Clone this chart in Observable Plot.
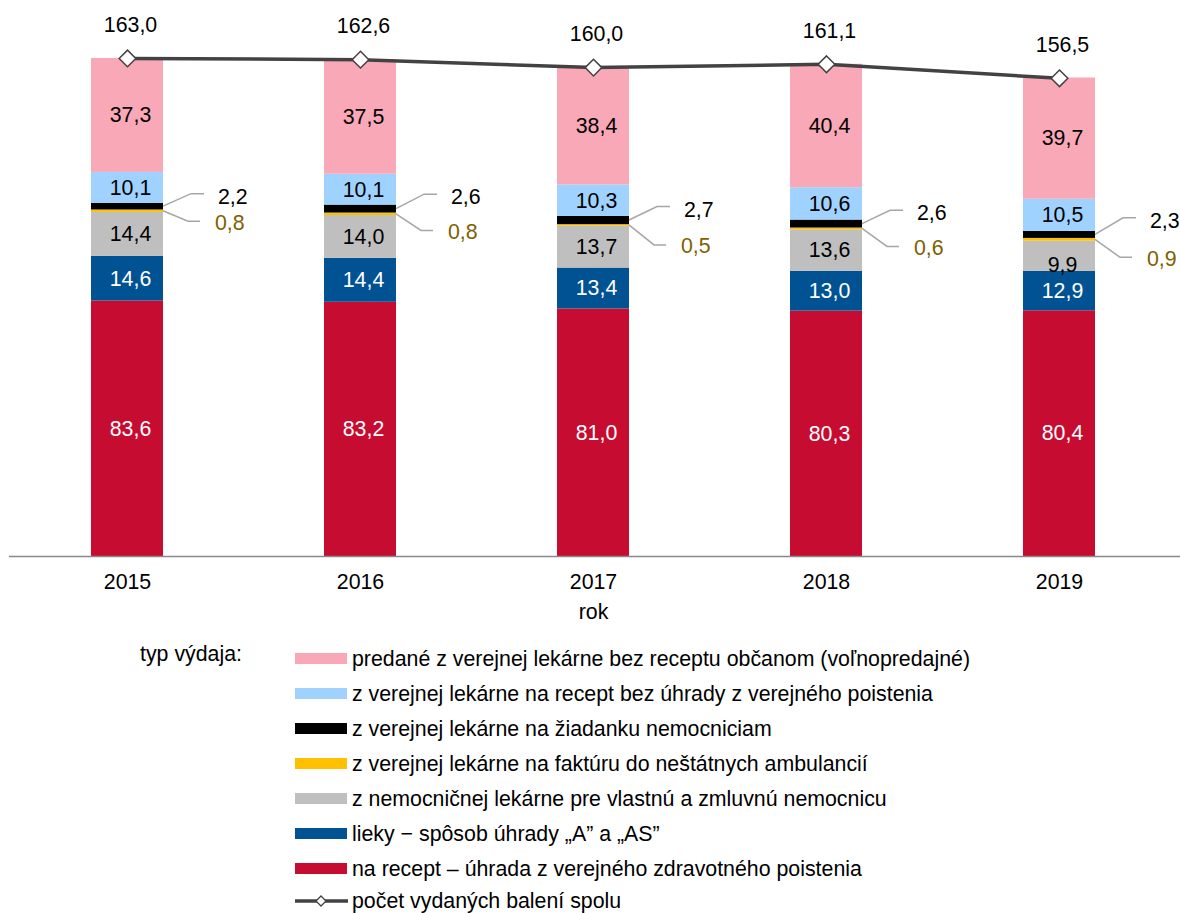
<!DOCTYPE html>
<html>
<head>
<meta charset="utf-8">
<script src="https://cdn.jsdelivr.net/npm/d3@7"></script>
<script src="https://cdn.jsdelivr.net/npm/@observablehq/plot@0.6"></script>
<style>
  body { margin: 0; background: #fff; font-family: "Liberation Sans", Arial, sans-serif; }
  #wrap { position: relative; width: 1180px; height: 913px; overflow: hidden; }
  #chart { position: absolute; left: 0; top: 0; }
  .row { position: absolute; left: 295px; height: 35px; display: flex; align-items: center;
         font-size: 21.33px; line-height: 22px; color: #000; white-space: nowrap; }
  .sw { width: 52px; height: 11px; margin-right: 5px; flex: none; }
  .legtitle { position: absolute; left: 140px; height: 35px; display: flex; align-items: center;
              font-size: 21.33px; line-height: 22px; color: #000; white-space: nowrap; }
</style>
</head>
<body>
<div id="wrap"><div id="chart"></div><div id="legend"></div></div>
<script>
// ---------- data ----------
const years = ["2015", "2016", "2017", "2018", "2019"];
const seriesNames = [
  "na recept – úhrada z verejného zdravotného poistenia",
  "lieky − spôsob úhrady „A” a „AS”",
  "z nemocničnej lekárne pre vlastnú a zmluvnú nemocnicu",
  "z verejnej lekárne na faktúru do neštátnych ambulancií",
  "z verejnej lekárne na žiadanku nemocniciam",
  "z verejnej lekárne na recept bez úhrady z verejného poistenia",
  "predané z verejnej lekárne bez receptu občanom (voľnopredajné)"
];
const redValues       = [83.6, 83.2, 81.0, 80.3, 80.4];
const blueValues      = [14.6, 14.4, 13.4, 13.0, 12.9];
const grayValues      = [14.4, 14.0, 13.7, 13.6, 9.9];
const yellowValues    = [0.8, 0.8, 0.5, 0.6, 0.9];
const blackValues     = [2.2, 2.6, 2.7, 2.6, 2.3];
const lightBlueValues = [10.1, 10.1, 10.3, 10.6, 10.5];
const pinkValues      = [37.3, 37.5, 38.4, 40.4, 39.7];
const totalValues     = [163.0, 162.6, 160.0, 161.1, 156.5];
const totalName = "počet vydaných balení spolu";
const legendTitle = "typ výdaja:";
const axisLabel = "rok";

// ---------- styles / layout ----------
const FS = 21.33;
const seriesColors = ["#C60C30", "#005293", "#BFBFBF", "#FFC000", "#000000", "#9FD2FF", "#F9A8B7"];
const labelColors  = ["#fff", "#fff", "#000", null, null, "#000", "#000"];
const lineColor = "#424242";
const leaderColor = "#A6A6A6";
const yellowLabelColor = "#7F6000";
// callout vertical offsets in pixels (black label, yellow label) per year
const calloutBlackDy  = [-12.5, -14.4, -13.5, -13.3, -16.6];
const calloutYellowDy = [10.5, 16.6, 20, 18, 18];
// one in-bar label that sits lower in the reference (series index, year)
const nudged = {si: 2, year: "2019", dy: 9};
const isNudged = d => d.si === nudged.si && d.year === nudged.year;

const seriesValues = [redValues, blueValues, grayValues, yellowValues, blackValues, lightBlueValues, pinkValues];
const fmt = v => v.toFixed(1).replace(".", ",");

const tidy = [];
seriesValues.forEach((vals, i) => vals.forEach((v, j) => tidy.push({year: years[j], series: seriesNames[i], si: i, value: v})));
const totals = years.map((y, j) => ({year: y, total: totalValues[j]}));

function callouts(index, scales) {
  const x = scales.x, y = scales.y, bw = x.bandwidth();
  const g = d3.create("svg:g").attr("text-anchor", "start").attr("font-size", FS);
  years.forEach((yr, j) => {
    const R = x(yr) + bw;
    const base = redValues[j] + blueValues[j] + grayValues[j];
    const yY = y(base + yellowValues[j] / 2);
    const yB = y(base + yellowValues[j] + blackValues[j] / 2);
    const eB = yB + calloutBlackDy[j];
    const eY = yY + calloutYellowDy[j];
    g.append("polyline")
      .attr("points", `${R},${yB} ${R + 28},${eB} ${R + 41},${eB}`)
      .attr("fill", "none").attr("stroke", leaderColor).attr("stroke-width", 1.5);
    g.append("polyline")
      .attr("points", `${R},${yY} ${R + 25},${eY} ${R + 37},${eY}`)
      .attr("fill", "none").attr("stroke", leaderColor).attr("stroke-width", 1.5);
    g.append("text").attr("x", R + 55).attr("y", eB + 2.5).attr("dy", "0.35em")
      .attr("text-anchor", "start").attr("fill", "#000").text(fmt(blackValues[j]));
    g.append("text").attr("x", R + 52).attr("y", eY + 1).attr("dy", "0.35em")
      .attr("text-anchor", "start").attr("fill", yellowLabelColor).text(fmt(yellowValues[j]));
  });
  return g.node();
}

const chart = Plot.plot({
  width: 1180,
  height: 630,
  marginTop: 6,
  marginBottom: 74,
  marginLeft: 9,
  marginRight: 3,
  style: {fontFamily: "'Liberation Sans', Arial, sans-serif", fontSize: FS + "px", color: "#000", background: "#fff"},
  x: {domain: years, paddingInner: 0.69, paddingOuter: 0.345, tickSize: 0, tickPadding: 17, label: null},
  y: {domain: [0, 180], axis: null},
  color: {domain: seriesNames, range: seriesColors},
  marks: [
    Plot.barY(tidy, {x: "year", y: "value", fill: "series", z: "series"}),
    Plot.ruleY([0], {stroke: "#898989", strokeWidth: 1.3, insetRight: -3}),
    Plot.text(tidy, Plot.stackY({x: "year", y: "value", z: "series",
      text: d => labelColors[d.si] === "#fff" ? fmt(d.value) : null, fill: "#fff", dx: 3, fontSize: FS})),
    Plot.text(tidy, Plot.stackY({x: "year", y: "value", z: "series",
      text: d => labelColors[d.si] === "#000" && !isNudged(d) ? fmt(d.value) : null, fill: "#000", dx: 3, fontSize: FS})),
    Plot.text(tidy, Plot.stackY({x: "year", y: "value", z: "series",
      text: d => isNudged(d) ? fmt(d.value) : null, fill: "#000", dx: 3, dy: nudged.dy, fontSize: FS})),
    callouts,
    Plot.line(totals, {x: "year", y: "total", stroke: lineColor, strokeWidth: 3.5}),
    Plot.dot(totals, {x: "year", y: "total", symbol: "diamond2", r: 7.5, fill: "#fff", stroke: lineColor, strokeWidth: 1.5}),
    Plot.text(totals, {x: "year", y: "total", text: d => fmt(d.total), dy: -33, dx: 3, fontSize: FS, fill: "#000"}),
    Plot.text([axisLabel], {frameAnchor: "bottom", lineAnchor: "middle", text: d => d, dy: 56, fontSize: FS, fill: "#000"})
  ]
});
document.getElementById("chart").appendChild(chart);

// ---------- legend ----------
const legend = document.getElementById("legend");
const t = document.createElement("div");
t.className = "legtitle";
t.style.top = (641 - 5) + "px";
t.textContent = legendTitle;
legend.appendChild(t);
const order = [6, 5, 4, 3, 2, 1, 0];
order.forEach((si, r) => {
  const row = document.createElement("div");
  row.className = "row";
  row.style.top = (641 + 35 * r) + "px";
  const sw = document.createElement("div");
  sw.className = "sw";
  sw.style.background = seriesColors[si];
  row.appendChild(sw);
  const tx = document.createElement("span");
  tx.textContent = seriesNames[si];
  row.appendChild(tx);
  legend.appendChild(row);
});
{
  const row = document.createElement("div");
  row.className = "row";
  row.style.top = (641 + 35 * 7 - 3) + "px";
  const ns = "http://www.w3.org/2000/svg";
  const s = document.createElementNS(ns, "svg");
  s.setAttribute("width", 54); s.setAttribute("height", 14);
  s.style.marginRight = "3px"; s.style.flex = "none";
  s.innerHTML = `<line x1="0" y1="7" x2="53" y2="7" stroke="${lineColor}" stroke-width="3.5"/>` +
    `<path d="M26,2 L31,7 L26,12 L21,7 Z" fill="#fff" stroke="${lineColor}" stroke-width="1.3"/>`;
  row.appendChild(s);
  const tx = document.createElement("span");
  tx.textContent = totalName;
  row.appendChild(tx);
  legend.appendChild(row);
}
</script>
</body>
</html>
